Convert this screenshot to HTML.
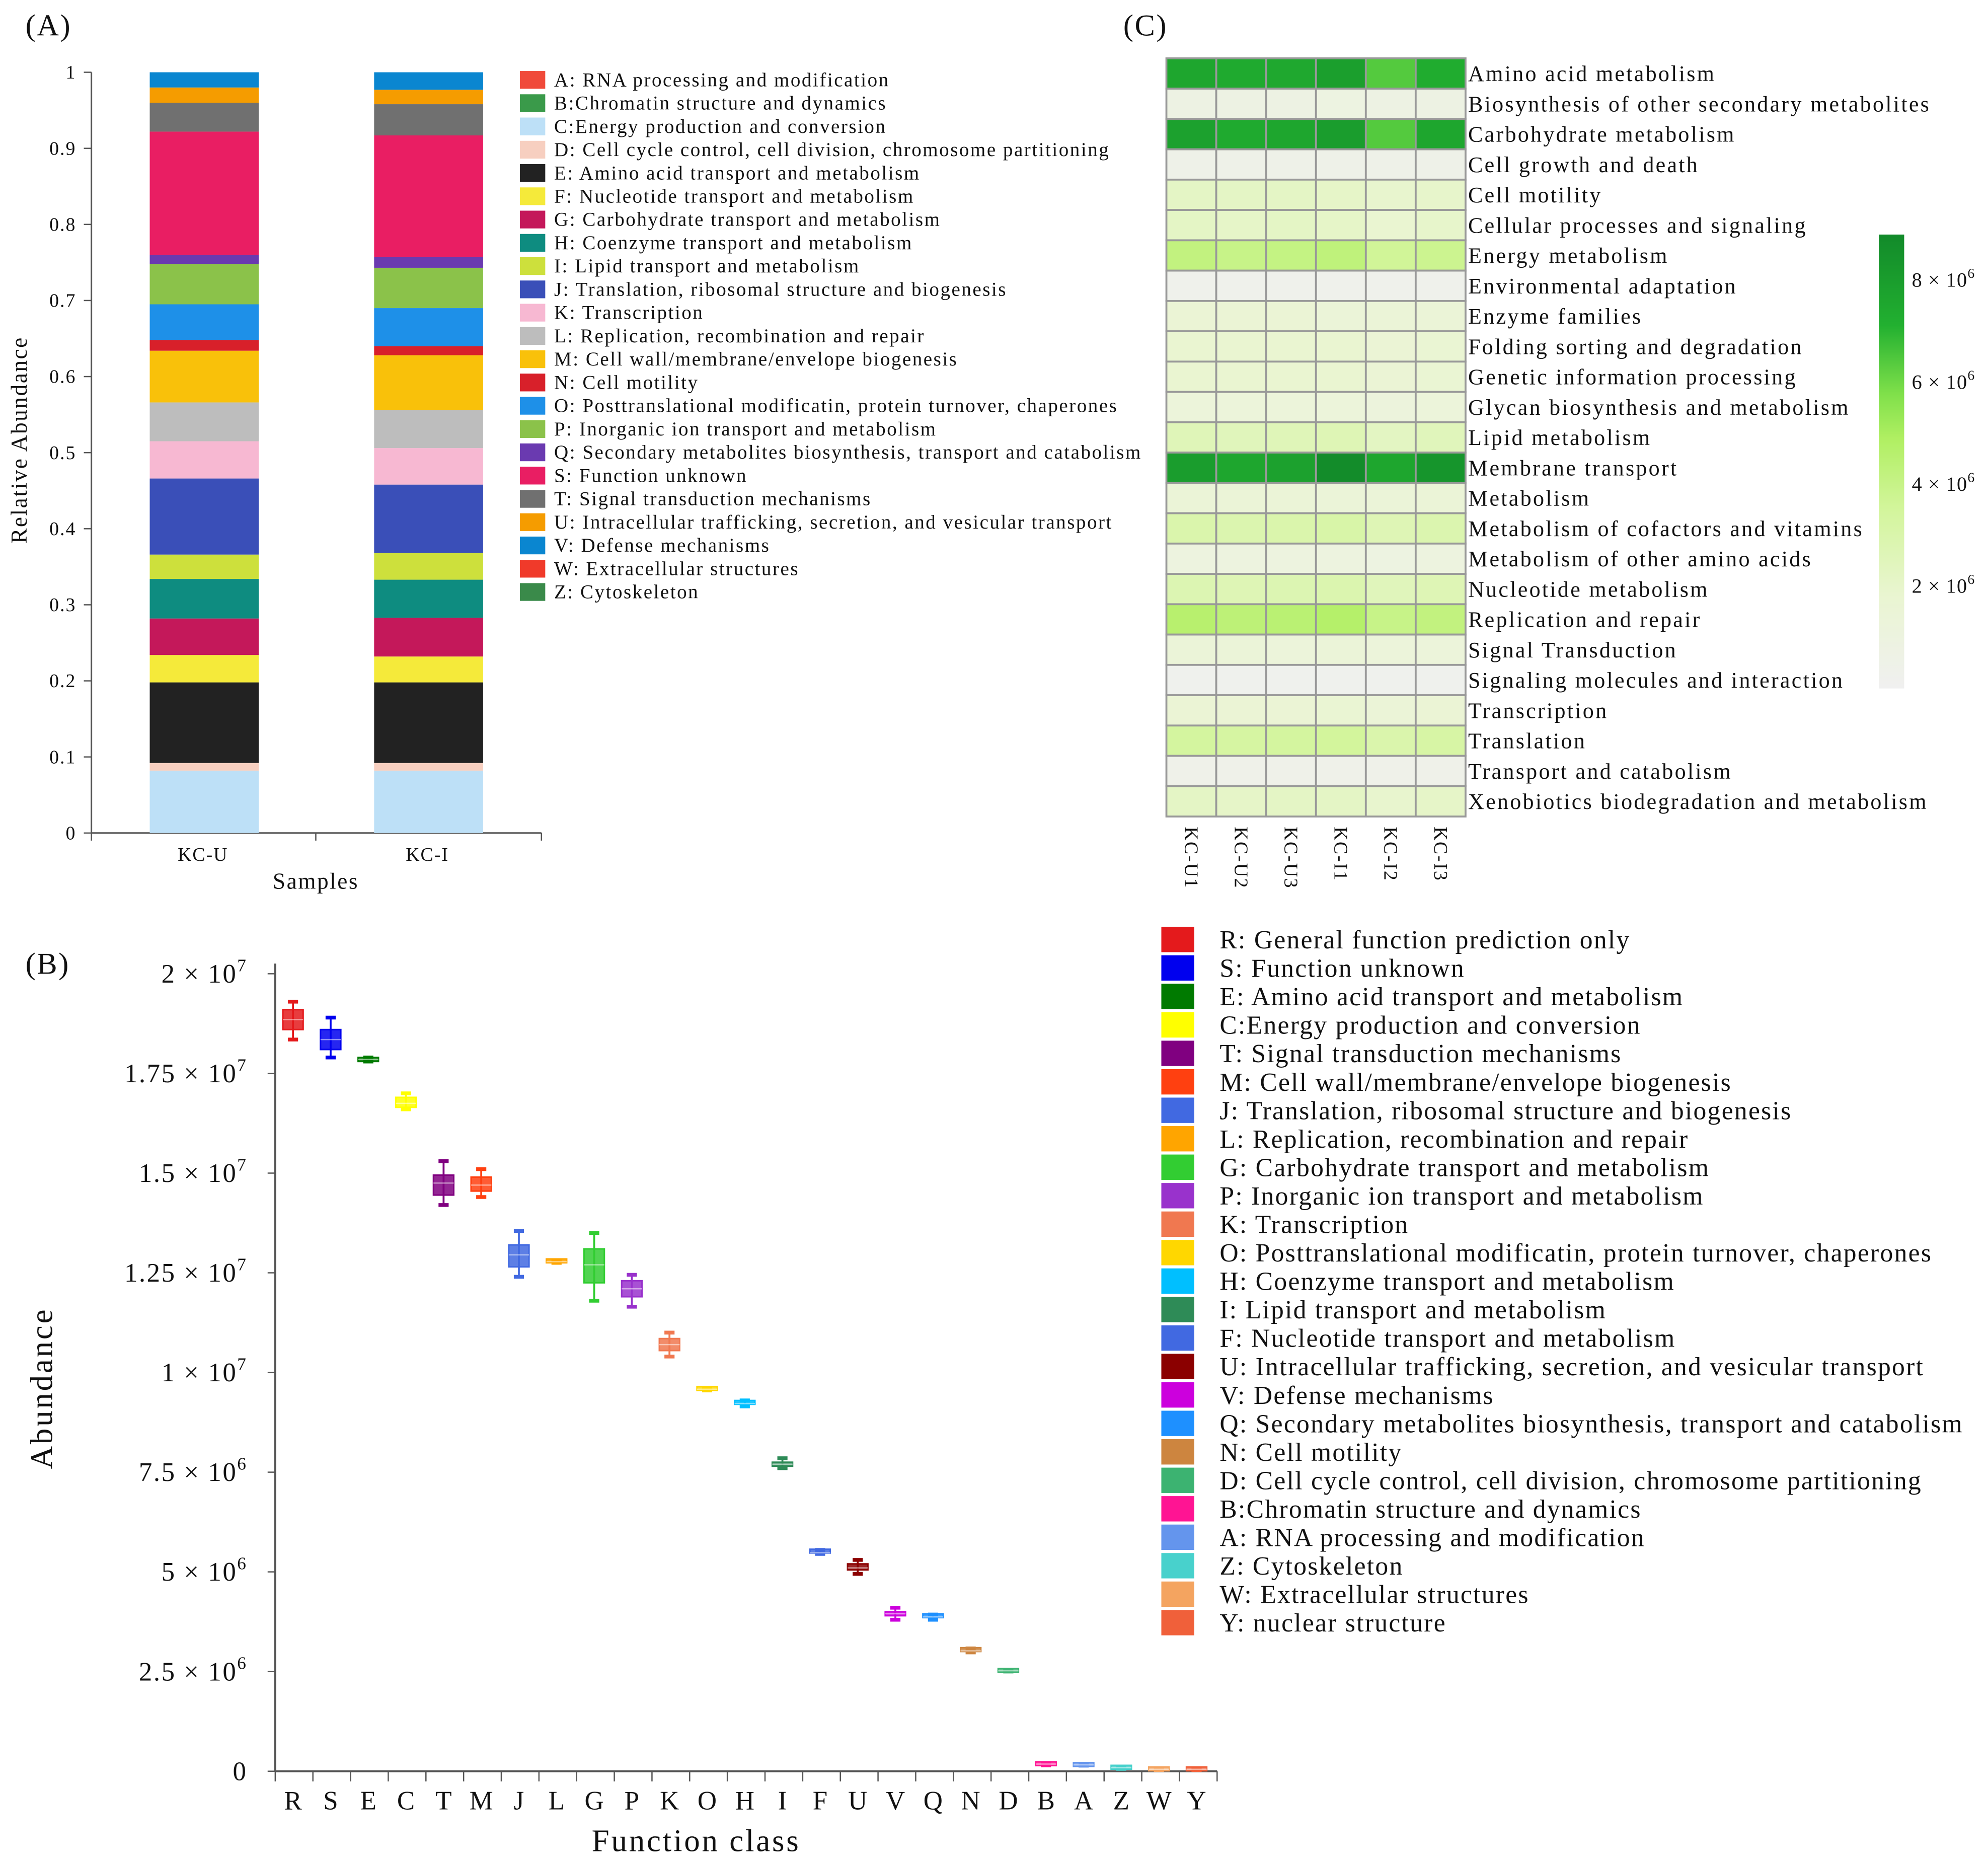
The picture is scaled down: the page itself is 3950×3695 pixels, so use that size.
<!DOCTYPE html>
<html><head><meta charset="utf-8"><style>
html,body{margin:0;padding:0;background:#fff}
svg{display:block}
text{font-family:"Liberation Serif",serif;fill:#111}
</style></head><body>
<svg id="fig" xmlns="http://www.w3.org/2000/svg" width="3950" height="3695" viewBox="0 0 1568 1467">
<defs>
<linearGradient id="cbar" x1="0" y1="1" x2="0" y2="0">
<stop offset="0" stop-color="#f0f0f0"/><stop offset="0.2" stop-color="#eaf5d2"/><stop offset="0.4" stop-color="#d2f59a"/><stop offset="0.55" stop-color="#b0ef62"/><stop offset="0.65" stop-color="#7fe04a"/><stop offset="0.8" stop-color="#22b030"/><stop offset="1" stop-color="#128a2a"/>
</linearGradient>
</defs>
<g id="panelA"></g>
<g id="panelC"></g>
<g id="panelB"></g>
</svg>
<script>
// ---------- Panel A data ----------
const aSamples = ["KC-U","KC-I"];
const aCats = ["C","D","E","F","G","H","I","J","K","L","M","N","O","P","Q","S","T","U","V"];
const aKCU = [0.082,0.010,0.106,0.036,0.048,0.052,0.032,0.100,0.049,0.051,0.068,0.014,0.047,0.053,0.012,0.162,0.038,0.020,0.020];
const aKCI = [0.082,0.010,0.106,0.034,0.051,0.050,0.035,0.090,0.048,0.050,0.072,0.012,0.050,0.053,0.014,0.160,0.041,0.019,0.023];
const aTicks = ["0","0.1","0.2","0.3","0.4","0.5","0.6","0.7","0.8","0.9","1"];
const aLegend = ["A: RNA processing and modification","B:Chromatin structure and dynamics","C:Energy production and conversion","D: Cell cycle control, cell division, chromosome partitioning","E: Amino acid transport and metabolism","F: Nucleotide transport and metabolism","G: Carbohydrate transport and metabolism","H: Coenzyme transport and metabolism","I: Lipid transport and metabolism","J: Translation, ribosomal structure and biogenesis","K: Transcription","L: Replication, recombination and repair","M: Cell wall/membrane/envelope biogenesis","N: Cell motility","O: Posttranslational modificatin, protein turnover, chaperones","P: Inorganic ion transport and metabolism","Q: Secondary metabolites biosynthesis, transport and catabolism","S: Function unknown","T: Signal transduction mechanisms","U: Intracellular trafficking, secretion, and vesicular transport","V: Defense mechanisms","W: Extracellular structures","Z: Cytoskeleton"];
const aLegendKeys = ["A","B","C","D","E","F","G","H","I","J","K","L","M","N","O","P","Q","S","T","U","V","W","Z"];
const aColors = {A:"#f04a3a",B:"#3a9a4a",C:"#bde0f7",D:"#f7cfc0",E:"#222222",F:"#f5ea3a",G:"#c4185a",H:"#0e8c80",I:"#cde03c",J:"#3a4fb8",K:"#f7b8d2",L:"#bdbdbd",M:"#f9c10a",N:"#d8202a",O:"#1e90e8",P:"#8bc24a",Q:"#6a3ab0",S:"#e91e63",T:"#707070",U:"#f59c00",V:"#0a86d0",W:"#f03a2a",Z:"#3a8a4a"};

// ---------- Panel C data ----------
const cCols = ["KC-U1","KC-U2","KC-U3","KC-I1","KC-I2","KC-I3"];
const cRows = ["Amino acid metabolism","Biosynthesis of other secondary metabolites","Carbohydrate metabolism","Cell growth and death","Cell motility","Cellular processes and signaling","Energy metabolism","Environmental adaptation","Enzyme families","Folding sorting and degradation","Genetic information processing","Glycan biosynthesis and metabolism","Lipid metabolism","Membrane transport","Metabolism","Metabolism of cofactors and vitamins","Metabolism of other amino acids","Nucleotide metabolism","Replication and repair","Signal Transduction","Signaling molecules and interaction","Transcription","Translation","Transport and catabolism","Xenobiotics biodegradation and metabolism"];
const cVals = [
[7.6,7.4,7.5,7.9,6.4,7.3],[0.8,0.8,0.8,0.9,0.8,0.8],[7.8,7.4,7.6,8.0,6.4,7.6],[0.5,0.5,0.5,0.5,0.5,0.5],
[2.2,2.2,2.2,2.1,1.9,2.0],[2.2,2.1,2.2,2.1,1.8,2.0],[4.2,4.0,4.1,4.3,3.6,3.8],[0.3,0.3,0.3,0.3,0.3,0.3],
[1.6,1.6,1.6,1.4,1.5,1.5],[1.8,1.8,1.8,1.8,1.6,1.7],[1.8,1.8,1.8,1.8,1.6,1.7],[1.3,1.3,1.3,1.3,1.2,1.3],
[2.6,2.5,2.6,2.7,2.3,2.5],[8.0,7.6,7.8,8.8,7.6,8.4],[1.5,1.5,1.5,1.4,1.4,1.5],[3.0,2.9,3.0,3.1,2.7,2.9],
[1.0,1.0,1.0,1.0,0.9,1.0],[2.8,2.7,2.8,2.9,2.5,2.7],[4.6,4.4,4.5,4.7,4.0,4.2],[1.4,1.4,1.3,1.4,1.3,1.3],
[0.2,0.2,0.2,0.2,0.2,0.2],[1.6,1.6,1.6,1.7,1.5,1.6],[3.4,3.3,3.4,3.5,3.0,3.2],[0.4,0.4,0.4,0.4,0.4,0.4],
[2.2,2.1,2.2,2.2,1.9,2.1]];
const cBarTicks = [2,4,6,8];

// ---------- Panel B data ----------
const bCats = ["R","S","E","C","T","M","J","L","G","P","K","O","H","I","F","U","V","Q","N","D","B","A","Z","W","Y"];
const bMin = [1.835,1.79,1.78,1.66,1.42,1.44,1.24,1.275,1.18,1.165,1.04,0.955,0.915,0.76,0.545,0.495,0.38,0.38,0.298,0.25,0.015,0.014,0.006,0.003,0.003];
const bQ1  = [1.86,1.81,1.78,1.665,1.445,1.455,1.265,1.275,1.225,1.19,1.055,0.955,0.918,0.765,0.545,0.505,0.39,0.383,0.30,0.251,0.017,0.015,0.008,0.004,0.004];
const bMed = [1.885,1.835,1.785,1.675,1.475,1.47,1.295,1.278,1.27,1.21,1.07,0.958,0.922,0.77,0.548,0.51,0.395,0.387,0.302,0.252,0.018,0.016,0.009,0.005,0.005];
const bQ3  = [1.91,1.86,1.79,1.69,1.495,1.49,1.32,1.28,1.31,1.23,1.085,0.96,0.925,0.775,0.552,0.52,0.40,0.39,0.305,0.253,0.019,0.017,0.010,0.006,0.006];
const bMax = [1.93,1.89,1.79,1.70,1.53,1.51,1.355,1.28,1.35,1.245,1.10,0.96,0.93,0.785,0.555,0.53,0.41,0.393,0.308,0.254,0.020,0.018,0.011,0.006,0.006];
const bTickMant = ["0","2.5","5","7.5","1","1.25","1.5","1.75","2"];
const bTickExp = ["","6","6","6","7","7","7","7","7"];
const bColors = ["#e41a1c","#0000ee","#007a00","#ffff00","#800080","#ff4010","#4169e1","#ffa500","#32cd32","#9932cc","#f07850","#ffd700","#00bfff","#2e8b57","#4169e1","#8b0000","#cc00dd","#1e90ff","#cd853f","#3cb371","#ff1493","#6495ed","#48d1cc","#f4a460","#f0603a"];
const bLegend = ["R: General function prediction only","S: Function unknown","E: Amino acid transport and metabolism","C:Energy production and conversion","T: Signal transduction mechanisms","M: Cell wall/membrane/envelope biogenesis","J: Translation, ribosomal structure and biogenesis","L: Replication, recombination and repair","G: Carbohydrate transport and metabolism","P: Inorganic ion transport and metabolism","K: Transcription","O: Posttranslational modificatin, protein turnover, chaperones","H: Coenzyme transport and metabolism","I: Lipid transport and metabolism","F: Nucleotide transport and metabolism","U: Intracellular trafficking, secretion, and vesicular transport","V: Defense mechanisms","Q: Secondary metabolites biosynthesis, transport and catabolism","N: Cell motility","D: Cell cycle control, cell division, chromosome partitioning","B:Chromatin structure and dynamics","A: RNA processing and modification","Z: Cytoskeleton","W: Extracellular structures","Y: nuclear structure"];

const NS="http://www.w3.org/2000/svg";
function mk(parent,tag,attrs,txt){const e=document.createElementNS(NS,tag);for(const k in attrs)e.setAttribute(k,attrs[k]);if(txt!==undefined)e.textContent=txt;parent.appendChild(e);return e;}

// ===== Panel A =====
(function(){
const g=document.getElementById('panelA');
const yA=v=>657-v*600;
const xA=i=>118+i*177;
let t=mk(g,'text',{x:20,y:28,'font-size':24,'letter-spacing':1});t.textContent="(A)";

let ax=mk(g,'line',{x1:72,y1:57,x2:72,y2:657,stroke:'#555','stroke-width':1.2});

let xx=mk(g,'line',{x1:72,y1:657,x2:427,y2:657,stroke:'#555','stroke-width':1.2});

[72,249,427].forEach(x=>mk(g,'line',{x1:x,y1:657,x2:x,y2:663,stroke:'#555'}));
aTicks.forEach((lab,i)=>{const v=i/10;
 mk(g,'line',{x1:66,y1:yA(v),x2:72,y2:yA(v),stroke:'#555'});
 const tt=mk(g,'text',{x:60,y:yA(v)+5,'font-size':15,'text-anchor':'end','letter-spacing':0.8},lab);
 
});
let yt=mk(g,'text',{x:0,y:0,'font-size':18,'letter-spacing':1,'text-anchor':'middle',transform:'translate(21,347) rotate(-90)'},"Relative Abundance");

[aKCU,aKCI].forEach((vals,si)=>{
 let cum=0;
 vals.forEach((v,ci)=>{
  const r=mk(g,'rect',{x:xA(si),y:yA(cum+v),width:86,height:v*600,fill:aColors[aCats[ci]]});
  
  
  cum+=v;
 });
 const l=mk(g,'text',{x:xA(si)+42,y:679,'font-size':15,'letter-spacing':0.8,'text-anchor':'middle'},aSamples[si]);
 
});
let xt=mk(g,'text',{x:249,y:701,'font-size':18,'letter-spacing':1,'text-anchor':'middle'},"Samples");

aLegend.forEach((lab,i)=>{
 const y=56+i*18.36;
 const s=mk(g,'rect',{x:410,y:y,width:20,height:14,fill:aColors[aLegendKeys[i]]});
 
 const tx=mk(g,'text',{x:437,y:y+12,'font-size':15.5,'letter-spacing':1.0},lab);
 
});
})();

// ===== Panel C =====
(function(){
const g=document.getElementById('panelC');
const x0=920,y0=46,cw=39.33,rh=23.92,vmax=8.9;
const stops=[[0,[240,240,240]],[0.2,[234,245,210]],[0.4,[210,245,154]],[0.55,[176,239,98]],[0.65,[127,224,74]],[0.8,[34,176,48]],[1,[18,138,42]]];
function col(v){let f=Math.max(0,Math.min(1,v/vmax));for(let i=1;i<stops.length;i++){if(f<=stops[i][0]){const a=stops[i-1],b=stops[i];const u=(f-a[0])/(b[0]-a[0]);const c=a[1].map((x,k)=>Math.round(x+(b[1][k]-x)*u));return 'rgb('+c.join(',')+')';}}return 'rgb(18,138,42)';}
let t=mk(g,'text',{x:886,y:28,'font-size':24,'letter-spacing':1},"(C)");

cVals.forEach((row,ri)=>{
 row.forEach((v,ci)=>{
  const r=mk(g,'rect',{x:x0+ci*cw,y:y0+ri*rh,width:cw,height:rh,fill:col(v),stroke:'#999','stroke-width':1.5});
  
  
 });
 const l=mk(g,'text',{x:1158,y:y0+ri*rh+18,'font-size':17.5,'letter-spacing':1.3},cRows[ri]);
 
});
cCols.forEach((c,ci)=>{
 const cx=x0+ci*cw+cw/2;
 const l=mk(g,'text',{x:0,y:0,'font-size':15,'letter-spacing':1,transform:'translate('+(cx-5)+',652) rotate(90)'},c);
 
});
const cb=mk(g,'rect',{x:1482,y:185,width:20,height:358,fill:'url(#cbar)'});

cBarTicks.forEach(v=>{
 const y=543-v/vmax*358;
 const tt=mk(g,'text',{x:1508,y:y+5,'font-size':16,'letter-spacing':0.5});
 
 tt.appendChild(document.createTextNode(v+' × 10'));
 mk(tt,'tspan',{dy:-7,'font-size':11},'6');
});
})();

// ===== Panel B =====
(function(){
const g=document.getElementById('panelB');
const yB=v=>1397-v/2*629;
const xB=i=>231+i*29.7;
let t=mk(g,'text',{x:20,y:768,'font-size':24,'letter-spacing':1},"(B)");

let ax=mk(g,'line',{x1:217,y1:760,x2:217,y2:1397,stroke:'#555','stroke-width':1.5});

let xx=mk(g,'line',{x1:217,y1:1397,x2:960,y2:1397,stroke:'#555','stroke-width':1.5});

for(let i=0;i<=bCats.length;i++){const x=217+i*(743/25);mk(g,'line',{x1:x,y1:1397,x2:x,y2:1405,stroke:'#555'});}
bTickMant.forEach((m,i)=>{
 const v=i*0.25, y=yB(v);
 mk(g,'line',{x1:211,y1:y,x2:217,y2:y,stroke:'#555'});
 const tt=mk(g,'text',{x:195,y:y+7,'font-size':21,'letter-spacing':1,'text-anchor':'end'});
 
 if(bTickExp[i]===''){tt.textContent=m;}else{
  tt.appendChild(document.createTextNode(m+' × 10'));
  mk(tt,'tspan',{dy:-9,'font-size':14},bTickExp[i]);
 }
});
let yt=mk(g,'text',{x:0,y:0,'font-size':25,'letter-spacing':1.5,'text-anchor':'middle',transform:'translate(41,1095) rotate(-90)'},"Abundance");

bCats.forEach((c,i)=>{
 const x=xB(i), col=bColors[i];
 const bx=mk(g,'g',{});
 
 
 mk(bx,'line',{x1:x,y1:yB(bMax[i]),x2:x,y2:yB(bMin[i]),stroke:col,'stroke-width':1.5});
 mk(bx,'line',{x1:x-4,y1:yB(bMax[i]),x2:x+4,y2:yB(bMax[i]),stroke:col,'stroke-width':3});
 mk(bx,'line',{x1:x-4,y1:yB(bMin[i]),x2:x+4,y2:yB(bMin[i]),stroke:col,'stroke-width':3});
 const h=Math.max(3,yB(bQ1[i])-yB(bQ3[i]));
 mk(bx,'rect',{x:x-8,y:yB(bQ3[i])-(h>3?0:1.5),width:16,height:h,fill:col,'fill-opacity':0.85,stroke:col,'stroke-width':1.2});
 mk(bx,'line',{x1:x-8,y1:yB(bMed[i]),x2:x+8,y2:yB(bMed[i]),stroke:'#fff','stroke-opacity':0.5,'stroke-width':1});
 const l=mk(g,'text',{x:x,y:1427,'font-size':21,'text-anchor':'middle'},c);
 
});
let xt=mk(g,'text',{x:549,y:1460,'font-size':25,'letter-spacing':1.5,'text-anchor':'middle'},"Function class");

bLegend.forEach((lab,i)=>{
 const y=731+i*22.45;
 const s=mk(g,'rect',{x:916,y:y,width:26,height:20,fill:bColors[i]});
 
 const tx=mk(g,'text',{x:962,y:y+17,'font-size':20.5,'letter-spacing':0.9},lab);
 
});
})();
</script>
</body></html>
